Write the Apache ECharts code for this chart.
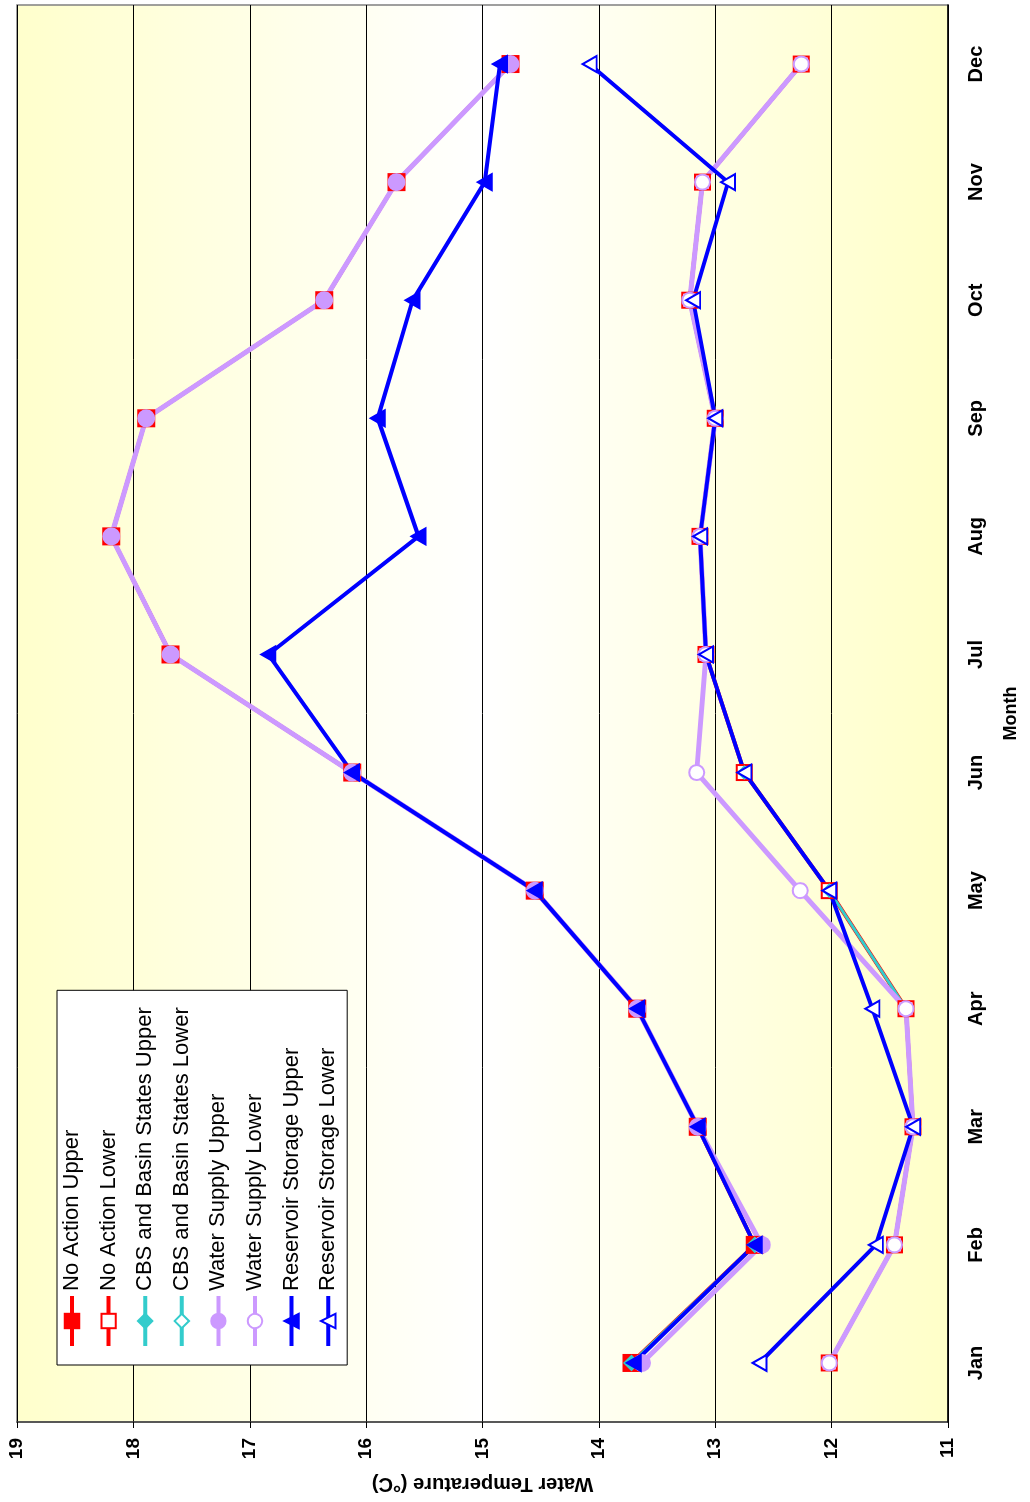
<!DOCTYPE html>
<html>
<head>
<meta charset="utf-8">
<script src="https://cdn.jsdelivr.net/npm/echarts@6/dist/echarts.min.js"></script>
<style>
  html, body { margin: 0; padding: 0; background: #fff; overflow: hidden; }
  /* chart is drawn landscape, then turned a quarter turn to the left like the scan */
  #chart {
    position: absolute; left: 0; top: 0;
    width: 1502px; height: 1030px;
    transform-origin: 0 0;
    transform: translate(0, 1502px) rotate(-90deg);
  }
</style>
</head>
<body>
<div id="chart"></div>
<script>
// months
var months = ["Jan", "Feb", "Mar", "Apr", "May", "Jun", "Jul", "Aug", "Sep", "Oct", "Nov", "Dec"];
// water temperature (°C)
var noActionUpper = [13.72, 12.66, 13.15, 13.67, 14.55, 16.12, 17.68, 18.19, 17.89, 16.36, 15.74, 14.76];
var noActionLower = [12.02, 11.46, 11.30, 11.36, 12.02, 12.75, 13.08, 13.13, 13.00, 13.22, 13.11, 12.26];
var cbsUpper = [13.72, 12.66, 13.15, 13.67, 14.55, 16.12, 17.68, 18.19, 17.89, 16.36, 15.74, 14.76];
var cbsLower = [12.02, 11.46, 11.30, 11.36, 12.02, 12.75, 13.08, 13.13, 13.00, 13.22, 13.11, 12.26];
var waterSupplyUpper = [13.63, 12.60, 13.15, 13.67, 14.55, 16.12, 17.68, 18.19, 17.89, 16.36, 15.74, 14.76];
var waterSupplyLower = [12.02, 11.46, 11.30, 11.36, 12.27, 13.16, 13.08, 13.13, 13.00, 13.22, 13.11, 12.26];
var reservoirUpper = [13.70, 12.66, 13.15, 13.67, 14.55, 16.12, 16.84, 15.55, 15.90, 15.60, 14.98, 14.85];
var reservoirLower = [12.62, 11.62, 11.30, 11.65, 12.02, 12.75, 13.08, 13.13, 13.00, 13.19, 12.89, 14.08];

var FONT = "'Liberation Sans', Arial, sans-serif";

function mkSeries(name, data, color, symbol, size, width) {
  return {
    name: name,
    type: "line",
    data: data,
    symbol: symbol,
    symbolSize: size,
    showAllSymbol: true,
    lineStyle: { color: color, width: width },
    itemStyle: { color: color, borderColor: color, borderWidth: 2 },
    emphasis: { disabled: true },
    animation: false
  };
}

var myChart = echarts.init(document.getElementById("chart"));
var option = {
  backgroundColor: "#ffffff",
  textStyle: { fontFamily: FONT },
  grid: {
    left: 75, right: 5, top: 17, bottom: 82,
    show: true,
    borderColor: "#808080",
    borderWidth: 1.5,
    backgroundColor: {
      type: "linear", x: 0, y: 0, x2: 0, y2: 1,
      colorStops: [
        { offset: 0, color: "#ffffcc" },
        { offset: 0.5, color: "#ffffff" },
        { offset: 1, color: "#ffffc8" }
      ]
    }
  },
  legend: {
    orient: "vertical",
    left: 137,
    top: 57,
    padding: [4, 17, 8, 17],
    itemWidth: 50,
    itemHeight: 18,
    itemGap: 14.6,
    backgroundColor: "#ffffff",
    borderColor: "#000000",
    borderWidth: 1,
    lineStyle: { width: 4 },
    textStyle: { fontFamily: FONT, fontSize: 22, lineHeight: 22, color: "#000" },
    data: ["No Action Upper", "No Action Lower", "CBS and Basin States Upper", "CBS and Basin States Lower",
           "Water Supply Upper", "Water Supply Lower", "Reservoir Storage Upper", "Reservoir Storage Lower"]
  },
  xAxis: {
    type: "category",
    data: months,
    name: "Month",
    nameLocation: "middle",
    nameGap: 54,
    nameTextStyle: { fontFamily: FONT, fontSize: 18, fontWeight: "bold", color: "#000" },
    axisLine: { lineStyle: { color: "#000", width: 1.5 } },
    axisTick: { length: 7, lineStyle: { color: "#000" } },
    axisLabel: { margin: 18, fontFamily: FONT, fontSize: 20, fontWeight: "bold", color: "#000" },
    splitLine: { show: false }
  },
  yAxis: {
    type: "value",
    min: 11,
    max: 19,
    interval: 1,
    name: "Water Temperature (\u00B0C)",
    nameLocation: "middle",
    nameGap: 52,
    nameTextStyle: { fontFamily: FONT, fontSize: 20, fontWeight: "bold", color: "#000" },
    axisLine: { show: true, lineStyle: { color: "#404040", width: 1.5 } },
    axisTick: { show: true, length: 6, lineStyle: { color: "#000" } },
    axisLabel: { margin: 16, fontFamily: FONT, fontSize: 19, fontWeight: "bold", color: "#000" },
    splitLine: { lineStyle: { color: "#000", width: 1 } }
  },
  series: [
    mkSeries("No Action Upper", noActionUpper, "#ff0000", "rect", 16, 4),
    mkSeries("No Action Lower", noActionLower, "#ff0000", "emptyRect", 15, 4),
    mkSeries("CBS and Basin States Upper", cbsUpper, "#33cccc", "diamond", 14, 3),
    mkSeries("CBS and Basin States Lower", cbsLower, "#33cccc", "emptyDiamond", 12, 3),
    mkSeries("Water Supply Upper", waterSupplyUpper, "#cc99ff", "circle", 16, 5),
    mkSeries("Water Supply Lower", waterSupplyLower, "#cc99ff", "emptyCircle", 15, 5),
    mkSeries("Reservoir Storage Upper", reservoirUpper, "#0000ff", "triangle", [16, 14], 4),
    mkSeries("Reservoir Storage Lower", reservoirLower, "#0000ff", "emptyTriangle", [16, 14], 4)
  ]
};
myChart.setOption(option);
</script>
</body>
</html>
